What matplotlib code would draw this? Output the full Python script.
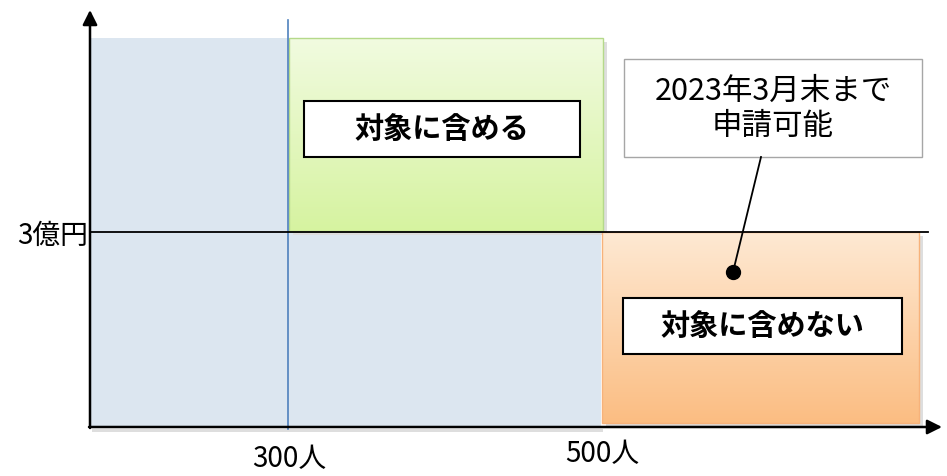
import numpy as np
import matplotlib.pyplot as plt
from matplotlib.patches import Rectangle, FancyArrowPatch
from matplotlib.colors import LinearSegmentedColormap

plt.rcParams['font.family'] = ['Noto Sans CJK JP', 'DejaVu Sans']

# labels of the diagram
x_tick_labels = ["300人", "500人"]
y_tick_labels = ["3億円"]
zone_labels = ["対象に含める", "対象に含めない"]
note_text = "2023年3月末まで\n申請可能"

# layout in pixel space (origin top-left)
W, H = 947, 476
x0, y_top, y_base = 90, 38, 427
x300, x500, x_end = 288, 601, 919
y3 = 232

fig = plt.figure(figsize=(W / 100, H / 100), dpi=100)
ax = fig.add_axes([0, 0, 1, 1])
ax.set_xlim(0, W)
ax.set_ylim(H, 0)
ax.axis('off')


def gradient(x1, x2, y1, y2, c_top, c_bot, edge):
    cmap = LinearSegmentedColormap.from_list('g', [c_top, c_bot])
    grad = np.linspace(0, 1, 256).reshape(-1, 1)
    ax.imshow(grad, cmap=cmap, extent=[x1, x2, y2, y1], aspect='auto', zorder=2)
    ax.add_patch(Rectangle((x1 + 4, y1 + 4), x2 - x1, y2 - y1, facecolor='#dedede',
                           edgecolor='none', zorder=1.5))
    ax.add_patch(Rectangle((x1, y1), x2 - x1, y2 - y1, facecolor='none',
                           edgecolor=edge, lw=1.0, zorder=2.5))


# blue base area
ax.add_patch(Rectangle((x0, y_top), x500 - x0, y_base - y_top, facecolor='#dce6f0',
                       edgecolor='none', zorder=1))
# green zone (included)
gradient(x300 + 1, x500 + 2, y_top, y3 - 1, '#f1fbe0', '#d6f3a0', '#b5d98a')
# orange zone (excluded)
gradient(x500 + 1, x_end, y3, y_base - 4, '#fee9d3', '#fbbd82', '#f7b27a')

# vertical 300 line
ax.plot([x300, x300], [20, y_base + 2], color='#4f81bd', lw=1.2, zorder=3)
# horizontal 3億円 line
ax.plot([x0, 928], [y3, y3], color='black', lw=1.3, zorder=3)

# axes with arrows
ax.add_patch(FancyArrowPatch((x0, y_base + 1), (x0, 10), arrowstyle='-|>', mutation_scale=22,
                             color='black', lw=1.8, zorder=4, shrinkA=0, shrinkB=0))
ax.add_patch(FancyArrowPatch((x0 - 1, y_base), (942, y_base), arrowstyle='-|>', mutation_scale=22,
                             color='black', lw=1.8, zorder=4, shrinkA=0, shrinkB=0))
ax.add_patch(Rectangle((x0 + 2, y_base + 2), x500 - x0, 3, facecolor='#dedede',
                       edgecolor='none', zorder=0.5))

# tick labels
ax.text(x300 + 1, 459, x_tick_labels[0], fontsize=20, ha='center', va='center', zorder=5)
ax.text(x500 + 1, 454, x_tick_labels[1], fontsize=20, ha='center', va='center', zorder=5)
ax.text(88, 236, y_tick_labels[0], fontsize=20, ha='right', va='center', zorder=5)

# zone label boxes
for (bx1, by1, bx2, by2), lab in zip([(304, 101, 580, 157), (623, 298, 902, 354)], zone_labels):
    ax.add_patch(Rectangle((bx1, by1), bx2 - bx1, by2 - by1, facecolor='white',
                           edgecolor='black', lw=1.5, zorder=5))
    ax.text((bx1 + bx2) / 2, (by1 + by2) / 2, lab, fontsize=21, fontweight='bold',
            ha='center', va='center', zorder=6)

# callout note
ax.add_patch(Rectangle((624, 59), 298, 98, facecolor='white', edgecolor='#a6a6a6',
                       lw=1.0, zorder=5))
ax.text(773, 109, note_text, fontsize=22, ha='center', va='center', linespacing=1.2,
        zorder=6)
ax.plot([761, 733], [157, 272], color='black', lw=1.3, zorder=6)
ax.plot([733], [272], 'o', color='black', markersize=10, zorder=7)

fig.savefig('out.png', dpi=100)
